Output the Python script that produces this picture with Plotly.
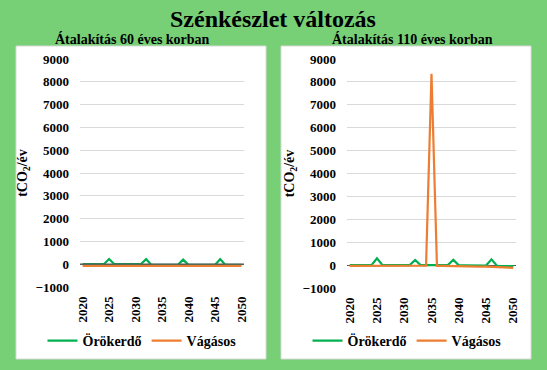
import plotly.graph_objects as go

years = list(range(2020, 2051))

# Átalakítás 60 éves korban
left_orokerdo = [0, 0, 0, 0, 0, 230, 0, 0, 0, 0, 0, 0, 220, -30, -30, -30, -30, -30, -30, 200,
                 -30, -30, -30, -30, -30, -30, 220, -30, -30, -30, -30]
left_vagasos = [-70] * 31

# Átalakítás 110 éves korban
right_orokerdo = [0, 0, 0, 0, 0, 300, 0, 0, 0, 0, 0, 0, 220, 0, 0, 0, 0, 0, 0, 230,
                  -10, -10, -10, -10, -20, -20, 250, -30, -40, -40, -40]
right_vagasos = [-30, -30, -30, -30, -30, -30, -30, -30, -30, -30, -30, -30, -30, -30, -20, 8350,
                 -30, -30, -40, -40, -50, -50, -60, -60, -70, -70, -80, -90, -100, -110, -120]

y_ticks = [-1000, 0, 1000, 2000, 3000, 4000, 5000, 6000, 7000, 8000, 9000]
x_ticks = [2020, 2025, 2030, 2035, 2040, 2045, 2050]

title_text = "Szénkészlet változás"
sub_left = "Átalakítás 60 éves korban"
sub_right = "Átalakítás 110 éves korban"
ytitle = "tCO<sub>2</sub>/év"

GREEN = "#00B050"
ORANGE = "#ED7D31"
BG = "#77CF76"
FONT = "Liberation Serif"
W, H = 547, 370

def px(x):
    return x / W

def py(y):
    return 1 - y / H

fig = go.Figure()

fig.add_trace(go.Scatter(x=years, y=left_orokerdo, mode="lines", name="Örökerdő",
                         line=dict(color=GREEN, width=2.2), xaxis="x", yaxis="y", legend="legend"))
fig.add_trace(go.Scatter(x=years, y=left_vagasos, mode="lines", name="Vágásos",
                         line=dict(color=ORANGE, width=2.2), xaxis="x", yaxis="y", legend="legend"))
fig.add_trace(go.Scatter(x=years, y=right_orokerdo, mode="lines", name="Örökerdő",
                         line=dict(color=GREEN, width=2.2), xaxis="x2", yaxis="y2", legend="legend2"))
fig.add_trace(go.Scatter(x=years, y=right_vagasos, mode="lines", name="Vágásos",
                         line=dict(color=ORANGE, width=2.2), xaxis="x2", yaxis="y2", legend="legend2"))

tickfont = dict(family=FONT, size=13, color="#000000", weight="bold")

xaxis_common = dict(range=[2019.5, 2050.5], tickvals=x_ticks, tickangle=-90, showgrid=False,
                    zeroline=False, showline=False, ticks="", tickfont=tickfont,
                    ticklabelstandoff=6, fixedrange=True, automargin=False)
yaxis_common = dict(range=[-1000, 9000], tickvals=y_ticks, showgrid=True, gridcolor="#D9D9D9",
                    gridwidth=1, zeroline=True, zerolinecolor="#595959", zerolinewidth=1.2,
                    showline=False, ticks="", tickfont=tickfont, ticklabelstandoff=10,
                    title=dict(text=ytitle, font=dict(family=FONT, size=14, color="#000000", weight="bold"),
                               standoff=4),
                    fixedrange=True, automargin=False)

legend_font = dict(family=FONT, size=14, color="#000000", weight="bold")

fig.update_layout(
    template="none",
    width=W, height=H, autosize=False,
    margin=dict(l=0, r=0, t=0, b=0, pad=0),
    paper_bgcolor=BG, plot_bgcolor="#FFFFFF",
    font=dict(family=FONT, color="#000000"),
    xaxis=dict(domain=[px(80), px(244)], anchor="y", **xaxis_common),
    yaxis=dict(domain=[py(287), py(59)], anchor="x", **yaxis_common),
    xaxis2=dict(domain=[px(347), px(516)], anchor="y2", **xaxis_common),
    yaxis2=dict(domain=[py(288), py(59)], anchor="x2", **yaxis_common),
    legend=dict(orientation="h", x=px(142), xanchor="center", y=py(341), yanchor="middle",
                bgcolor="rgba(0,0,0,0)", font=legend_font, itemwidth=30, tracegroupgap=0),
    legend2=dict(orientation="h", x=px(407), xanchor="center", y=py(341), yanchor="middle",
                 bgcolor="rgba(0,0,0,0)", font=legend_font, itemwidth=30, tracegroupgap=0),
    showlegend=True,
    shapes=[
        dict(type="rect", xref="paper", yref="paper", x0=px(16), x1=px(266), y0=py(359), y1=py(46),
             line=dict(color="#D9D9D9", width=1), fillcolor="#FFFFFF", layer="below"),
        dict(type="rect", xref="paper", yref="paper", x0=px(281), x1=px(531), y0=py(359), y1=py(46),
             line=dict(color="#D9D9D9", width=1), fillcolor="#FFFFFF", layer="below"),
        dict(type="line", xref="x domain", yref="y", x0=0, x1=1, y0=0, y1=0,
             line=dict(color="#595959", width=1.2), layer="above"),
    ],
    annotations=[
        dict(text="<b>" + title_text + "</b>", xref="paper", yref="paper", x=px(273), y=py(19),
             xanchor="center", yanchor="middle", showarrow=False,
             font=dict(family=FONT, size=24, color="#000000")),
        dict(text="<b>" + sub_left + "</b>", xref="paper", yref="paper", x=px(132), y=py(39),
             xanchor="center", yanchor="middle", showarrow=False,
             font=dict(family=FONT, size=14, color="#000000")),
        dict(text="<b>" + sub_right + "</b>", xref="paper", yref="paper", x=px(412), y=py(39),
             xanchor="center", yanchor="middle", showarrow=False,
             font=dict(family=FONT, size=14, color="#000000")),
    ],
)

fig.write_html("out.html",
               config={"displayModeBar": False},
               post_script="document.body.style.margin='0';document.body.style.background='" + BG + "';")
